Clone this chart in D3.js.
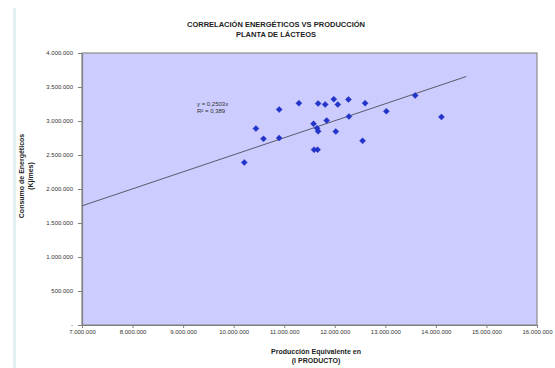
<!DOCTYPE html>
<html>
<head>
<meta charset="utf-8">
<script src="https://cdn.jsdelivr.net/npm/d3@7"></script>
<style>
  html, body { margin: 0; padding: 0; background: #ffffff; }
  svg { display: block; font-family: Arial, "Liberation Sans", sans-serif; }
</style>
</head>
<body>
<svg id="chart" width="555" height="368"></svg>
<script>
// Producción equivalente (x) y consumo de energéticos (y), por período
const produccion = [
  10.90e6, 11.29e6, 11.67e6, 11.81e6, 11.98e6, 12.06e6, 12.27e6, 12.60e6,
  13.59e6, 14.11e6, 13.02e6, 12.28e6, 11.84e6, 11.58e6, 11.65e6, 11.67e6,
  12.02e6, 12.55e6, 10.44e6, 10.59e6, 10.90e6, 11.59e6, 11.66e6, 10.21e6
];
const consumo = [
  3.169e6, 3.262e6, 3.258e6, 3.243e6, 3.321e6, 3.243e6, 3.317e6, 3.262e6,
  3.376e6, 3.060e6, 3.144e6, 3.066e6, 3.007e6, 2.959e6, 2.893e6, 2.849e6,
  2.846e6, 2.708e6, 2.889e6, 2.738e6, 2.750e6, 2.579e6, 2.579e6, 2.391e6
];

const xTicks = [7e6, 8e6, 9e6, 10e6, 11e6, 12e6, 13e6, 14e6, 15e6, 16e6];
const yTicks = [0, 0.5e6, 1e6, 1.5e6, 2e6, 2.5e6, 3e6, 3.5e6, 4e6];

// Línea de tendencia lineal (intersección en cero)
const pendiente = 0.2503;
const r2 = 0.389;
const tendenciaRango = [7e6, 14.6e6];

const titulo = ["CORRELACIÓN ENERGÉTICOS VS PRODUCCIÓN", "PLANTA DE LÁCTEOS"];
const tituloY = ["Consumo de Energéticos", "(Kj/mes)"];
const tituloX = ["Producción Equivalente en", "(l PRODUCTO)"];

const fmt = v => v === 0 ? "-" : d3.format(",")(v).replace(/,/g, ".");
const fmtDec = (v, n) => v.toFixed(n).replace(".", ",");

const svg = d3.select("#chart");
const plot = { left: 82, right: 537, top: 53, bottom: 325 };

const x = d3.scaleLinear().domain([7e6, 16e6]).range([plot.left, plot.right]);
const y = d3.scaleLinear().domain([0, 4e6]).range([plot.bottom, plot.top]);

// Borde lateral del área del gráfico
svg.append("rect")
  .attr("x", 13).attr("y", 8).attr("width", 3).attr("height", 360)
  .attr("fill", "#e3eff0");

// Área de trazado
svg.append("rect")
  .attr("x", plot.left).attr("y", plot.top)
  .attr("width", plot.right - plot.left).attr("height", plot.bottom - plot.top)
  .attr("fill", "#ccccff")
  .attr("stroke", "#8a8a8a").attr("stroke-width", 1.2);

// Ejes
const xAxis = d3.axisBottom(x).tickValues(xTicks).tickFormat(fmt).tickSize(3).tickSizeOuter(0);
const yAxis = d3.axisLeft(y).tickValues(yTicks).tickFormat(fmt).tickSize(4).tickSizeOuter(0);

const gx = svg.append("g").attr("transform", `translate(0,${plot.bottom})`).call(xAxis);
const gy = svg.append("g").attr("transform", `translate(${plot.left},0)`).call(yAxis);

[gx, gy].forEach(g => {
  g.select(".domain").attr("stroke", "#808080").attr("stroke-width", 1.2);
  g.selectAll(".tick line").attr("stroke", "#808080");
  g.selectAll(".tick text")
    .attr("fill", "#333")
    .attr("font-size", 6)
    .attr("font-family", "Arial, 'Liberation Sans', sans-serif");
});
gx.selectAll(".tick text").attr("dy", "0.9em").attr("y", 4);
gy.selectAll(".tick text").attr("x", -9);

// Línea de tendencia
svg.append("line")
  .attr("x1", x(tendenciaRango[0])).attr("y1", y(pendiente * tendenciaRango[0]))
  .attr("x2", x(tendenciaRango[1])).attr("y2", y(pendiente * tendenciaRango[1]))
  .attr("stroke", "#5a5a6a").attr("stroke-width", 1);

// Puntos (rombos pequeños)
const rombo = "M0,-3L3,0L0,3L-3,0Z";
const puntos = produccion.map((p, i) => ({ x: p, y: consumo[i] }));
svg.append("g").selectAll("path")
  .data(puntos)
  .join("path")
  .attr("transform", d => `translate(${x(d.x)},${y(d.y)})`)
  .attr("d", rombo)
  .attr("fill", "#2233c8")
  .attr("stroke", "#2233c8").attr("stroke-width", 0.5);

// Ecuación de la tendencia
const eq = svg.append("text")
  .attr("x", 197).attr("y", 106)
  .attr("font-size", 6).attr("fill", "#333");
eq.append("tspan").attr("x", 197).text(`y = ${fmtDec(pendiente, 4)}x`);
eq.append("tspan").attr("x", 197).attr("dy", 7).text(`R² = ${fmtDec(r2, 3)}`);

// Título
svg.append("text")
  .attr("x", 276).attr("y", 27)
  .attr("text-anchor", "middle")
  .attr("font-size", 7.5).attr("font-weight", "bold").attr("fill", "#222")
  .selectAll("tspan").data(titulo).join("tspan")
  .attr("x", 276).attr("dy", (d, i) => i ? 10 : 0)
  .text(d => d);

// Título eje Y
svg.append("text")
  .attr("transform", "translate(24,176) rotate(-90)")
  .attr("text-anchor", "middle")
  .attr("font-size", 7).attr("font-weight", "bold").attr("fill", "#222")
  .selectAll("tspan").data(tituloY).join("tspan")
  .attr("x", 0).attr("dy", (d, i) => i ? 9 : 0)
  .text(d => d);

// Título eje X
svg.append("text")
  .attr("x", 316).attr("y", 354)
  .attr("text-anchor", "middle")
  .attr("font-size", 7).attr("font-weight", "bold").attr("fill", "#222")
  .selectAll("tspan").data(tituloX).join("tspan")
  .attr("x", 316).attr("dy", (d, i) => i ? 9 : 0)
  .text(d => d);
</script>
</body>
</html>
